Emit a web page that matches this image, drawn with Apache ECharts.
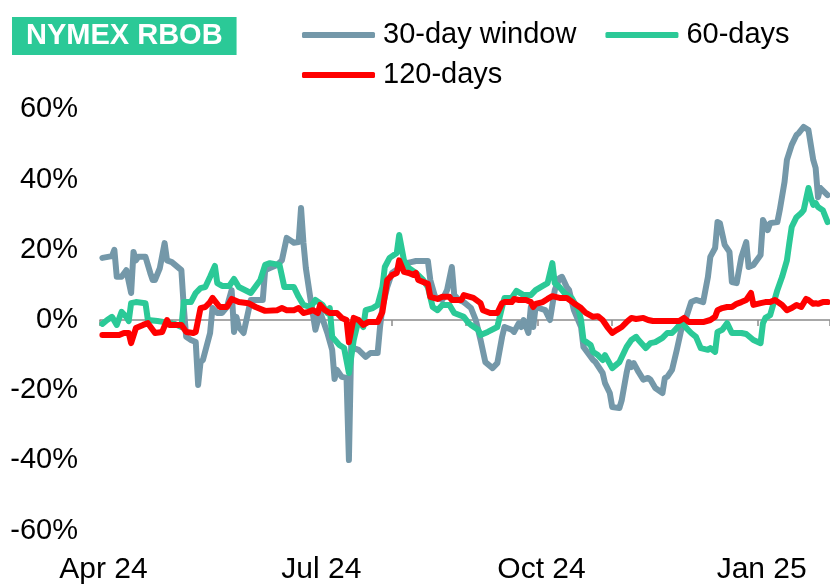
<!DOCTYPE html>
<html>
<head>
<meta charset="utf-8">
<script src="https://cdn.jsdelivr.net/npm/echarts@6/dist/echarts.min.js"></script>
<style>
html,body{margin:0;padding:0;background:#fff;}
#chart{width:830px;height:586px;}
</style>
</head>
<body>
<div id="chart"></div>
<script>
const seriesNames = ['30-day window', '60-days', '120-days'];
const xTickMonths = [3, 6, 9, 0];
const xTickLabels = ['Apr', 'Jul', 'Oct', 'Jan'];
const yTicks = [-60, -40, -20, 0, 20, 40, 60];

const gray30 = [
['2024-04-02',17.7],['2024-04-06',18.2],['2024-04-07',20],['2024-04-08',12.3],['2024-04-10',12.3],['2024-04-12',14.2],['2024-04-14',7.7],['2024-04-15',19.4],['2024-04-16',17],['2024-04-17',18],['2024-04-20',18],['2024-04-22',13.4],['2024-04-23',11.4],['2024-04-24',11.4],['2024-04-26',14.8],['2024-04-28',21.9],['2024-04-29',17],['2024-05-01',16.5],['2024-05-05',14.2],['2024-05-06',3.7],['2024-05-07',-4.8],['2024-05-09',-5.7],['2024-05-11',-6.3],['2024-05-12',-18.5],['2024-05-13',-12],['2024-05-14',-11.4],['2024-05-17',-3.7],['2024-05-18',3.4],['2024-05-20',2],['2024-05-22',2],['2024-05-24',3.7],['2024-05-26',8.5],['2024-05-27',-3.4],['2024-05-28',0.9],['2024-05-29',-2],['2024-05-31',-3.7],['2024-06-03',5.7],['2024-06-08',5.7],['2024-06-09',14.2],['2024-06-11',14.8],['2024-06-14',15.7],['2024-06-16',17],['2024-06-18',23.4],['2024-06-21',22],['2024-06-23',22.2],['2024-06-24',31.9],['2024-06-25',22],['2024-06-26',14.8],['2024-06-28',5.7],['2024-06-30',-2.8],['2024-07-02',2.3],['2024-07-05',-3.7],['2024-07-07',-8.5],['2024-07-08',-16.8],['2024-07-09',-14.2],['2024-07-11',-16.2],['2024-07-13',-16.5],['2024-07-14',-39.9],['2024-07-15',-5.7],['2024-07-16',-8],['2024-07-18',-8.5],['2024-07-21',-10.5],['2024-07-23',-9.4],['2024-07-26',-9.4],['2024-07-27',-2],['2024-07-28',3.7],['2024-07-30',9.4],['2024-08-01',13.4],['2024-08-04',14.8],['2024-08-07',16.2],['2024-08-09',16.5],['2024-08-11',16.8],['2024-08-16',16.8],['2024-08-17',11.4],['2024-08-19',6.6],['2024-08-22',5.7],['2024-08-24',8.5],['2024-08-26',15.1],['2024-08-27',7.1],['2024-08-29',5.7],['2024-08-31',5.1],['2024-09-03',3.4],['2024-09-05',0],['2024-09-07',-5.7],['2024-09-09',-12],['2024-09-12',-13.7],['2024-09-14',-12.3],['2024-09-16',-4.8],['2024-09-17',-2],['2024-09-20',-2.8],['2024-09-21',-3.4],['2024-09-23',-0.9],['2024-09-24',-2],['2024-09-25',0],['2024-09-27',-3.7],['2024-09-28',3.7],['2024-09-29',-2],['2024-09-30',3.7],['2024-10-04',2.8],['2024-10-06',0],['2024-10-08',8.5],['2024-10-10',12],['2024-10-11',12.3],['2024-10-13',9.4],['2024-10-14',8.5],['2024-10-16',2.8],['2024-10-19',-2],['2024-10-20',-7.7],['2024-10-24',-11.4],['2024-10-25',-12],['2024-10-28',-15.1],['2024-10-29',-18],['2024-10-31',-20.8],['2024-11-01',-24.8],['2024-11-04',-25.1],['2024-11-05',-22.8],['2024-11-07',-15.1],['2024-11-08',-12],['2024-11-09',-13.4],['2024-11-10',-12.3],['2024-11-12',-14.8],['2024-11-14',-17],['2024-11-16',-16.5],['2024-11-17',-17],['2024-11-19',-19.4],['2024-11-22',-20.8],['2024-11-23',-16.5],['2024-11-24',-16.2],['2024-11-26',-14.2],['2024-11-28',-8.5],['2024-11-30',-2.3],['2024-12-02',0.9],['2024-12-04',5.1],['2024-12-06',5.7],['2024-12-09',5.1],['2024-12-11',12.3],['2024-12-12',18],['2024-12-14',20.5],['2024-12-15',27.9],['2024-12-16',27.6],['2024-12-18',21.4],['2024-12-20',19.4],['2024-12-21',10.8],['2024-12-23',10.5],['2024-12-25',18],['2024-12-27',22.2],['2024-12-28',15.1],['2024-12-30',15.7],['2025-01-02',18.5],['2025-01-03',28.5],['2025-01-05',25.6],['2025-01-06',27.6],['2025-01-09',27.9],['2025-01-10',31.3],['2025-01-12',39.3],['2025-01-13',45.6],['2025-01-15',49.9],['2025-01-17',52.7],['2025-01-18',53.3],['2025-01-20',55],['2025-01-22',54.1],['2025-01-24',45.6],['2025-01-25',43.3],['2025-01-26',35],['2025-01-27',37.6],['2025-01-30',35.6]
];

const green60 = [
['2024-04-02',-1.1],['2024-04-04',0],['2024-04-06',0.9],['2024-04-08',-1.4],['2024-04-10',2.3],['2024-04-12',0.9],['2024-04-13',-0.3],['2024-04-14',4.8],['2024-04-16',5.1],['2024-04-20',4.8],['2024-04-21',0],['2024-04-25',-0.3],['2024-04-28',-0.6],['2024-05-02',-1.1],['2024-05-05',-2],['2024-05-06',5.1],['2024-05-09',5.1],['2024-05-11',7.7],['2024-05-13',9.1],['2024-05-15',9.4],['2024-05-17',12.3],['2024-05-19',15.4],['2024-05-20',10.5],['2024-05-22',9.7],['2024-05-25',9.7],['2024-05-27',11.7],['2024-05-29',9.4],['2024-06-03',7.7],['2024-06-07',11.4],['2024-06-09',15.7],['2024-06-11',16.2],['2024-06-15',15.7],['2024-06-17',9.4],['2024-06-21',9.4],['2024-06-23',6.6],['2024-06-25',4.3],['2024-06-28',3.7],['2024-06-30',5.7],['2024-07-03',4.3],['2024-07-05',2],['2024-07-06',3.4],['2024-07-07',-4.8],['2024-07-10',-7.1],['2024-07-12',-8],['2024-07-14',-15.1],['2024-07-16',-5.7],['2024-07-18',0],['2024-07-20',-2],['2024-07-21',2.8],['2024-07-24',3.4],['2024-07-26',4.3],['2024-07-28',9.4],['2024-07-29',15.1],['2024-07-31',17.7],['2024-08-03',19.1],['2024-08-04',24.2],['2024-08-06',17],['2024-08-08',14.8],['2024-08-11',13.4],['2024-08-14',11.4],['2024-08-16',9.4],['2024-08-18',3.7],['2024-08-20',2.8],['2024-08-22',4.3],['2024-08-25',4.3],['2024-08-27',2],['2024-08-31',0.9],['2024-09-02',-0.9],['2024-09-03',-1.4],['2024-09-06',-2.8],['2024-09-07',-4.3],['2024-09-10',-3.4],['2024-09-14',-2],['2024-09-16',3.7],['2024-09-17',6.3],['2024-09-20',6.3],['2024-09-22',8.3],['2024-09-25',7.1],['2024-09-28',7.1],['2024-09-30',8.5],['2024-10-03',9.7],['2024-10-05',10.5],['2024-10-07',16.2],['2024-10-08',10.5],['2024-10-10',9.4],['2024-10-12',7.7],['2024-10-15',6.3],['2024-10-18',2.8],['2024-10-19',0],['2024-10-20',-5.7],['2024-10-23',-7.1],['2024-10-24',-9.1],['2024-10-26',-10],['2024-10-28',-11.4],['2024-10-29',-10],['2024-11-01',-13.7],['2024-11-04',-12],['2024-11-07',-7.7],['2024-11-09',-5.7],['2024-11-11',-4.8],['2024-11-12',-5.7],['2024-11-15',-8],['2024-11-17',-6.6],['2024-11-19',-6.3],['2024-11-22',-5.1],['2024-11-24',-3.7],['2024-11-26',-3.7],['2024-11-28',-2.3],['2024-11-30',-0.6],['2024-12-02',-2.3],['2024-12-04',-3.7],['2024-12-06',-4.8],['2024-12-08',-8],['2024-12-11',-8.5],['2024-12-12',-8],['2024-12-14',-9.1],['2024-12-15',-3.4],['2024-12-17',-2.8],['2024-12-19',-0.9],['2024-12-21',-3.7],['2024-12-25',-3.7],['2024-12-27',-4],['2024-12-30',-5.7],['2025-01-02',-6.6],['2025-01-03',-0.9],['2025-01-04',0.6],['2025-01-06',1.4],['2025-01-09',8.5],['2025-01-11',12.3],['2025-01-13',17],['2025-01-14',21.9],['2025-01-15',26.5],['2025-01-17',29.3],['2025-01-19',30.5],['2025-01-20',31.3],['2025-01-22',37.6],['2025-01-23',34.8],['2025-01-24',32.8],['2025-01-25',33.3],['2025-01-26',32.2],['2025-01-28',31.3],['2025-01-30',27.9]
];

const red120 = [
['2024-04-02',-4.3],['2024-04-09',-4.3],['2024-04-11',-3.7],['2024-04-13',-3.7],['2024-04-14',-6.6],['2024-04-16',-2.3],['2024-04-19',-1.4],['2024-04-21',-0.9],['2024-04-24',-3.7],['2024-04-27',-3.4],['2024-04-29',0],['2024-04-30',-1.4],['2024-05-05',-1.4],['2024-05-07',-3.4],['2024-05-10',-3.7],['2024-05-11',-3.4],['2024-05-13',3.4],['2024-05-15',3.7],['2024-05-17',5.1],['2024-05-18',6.3],['2024-05-21',3.7],['2024-05-24',3.7],['2024-05-26',6],['2024-05-29',5.1],['2024-06-02',4.8],['2024-06-05',3.7],['2024-06-09',2.6],['2024-06-14',2.8],['2024-06-16',3.4],['2024-06-18',2.8],['2024-06-21',2.8],['2024-06-23',3.4],['2024-06-25',2],['2024-06-27',2.3],['2024-06-29',2.8],['2024-07-01',2],['2024-07-02',4.3],['2024-07-04',2.8],['2024-07-06',2],['2024-07-09',2],['2024-07-11',0.6],['2024-07-13',0],['2024-07-14',-6.3],['2024-07-16',0.6],['2024-07-18',0],['2024-07-20',-1.4],['2024-07-22',-0.6],['2024-07-26',-0.6],['2024-07-28',2.3],['2024-07-30',11.4],['2024-08-01',12.8],['2024-08-03',13.4],['2024-08-04',17],['2024-08-06',13.7],['2024-08-08',13.4],['2024-08-10',12.8],['2024-08-11',13.4],['2024-08-12',11.4],['2024-08-16',10.3],['2024-08-17',6.6],['2024-08-20',6],['2024-08-22',6.6],['2024-08-25',6.6],['2024-08-26',5.7],['2024-08-30',5.7],['2024-08-31',7.1],['2024-09-04',6.3],['2024-09-07',4.8],['2024-09-08',2.8],['2024-09-11',2],['2024-09-14',2],['2024-09-16',4.8],['2024-09-17',5.1],['2024-09-20',5.1],['2024-09-21',6],['2024-09-23',5.7],['2024-09-26',5.7],['2024-09-28',5.1],['2024-09-29',3.7],['2024-09-30',4.6],['2024-10-03',5.1],['2024-10-05',6],['2024-10-07',6.8],['2024-10-10',6.3],['2024-10-13',6.3],['2024-10-16',4.8],['2024-10-19',3.4],['2024-10-21',2],['2024-10-24',0.9],['2024-10-26',1.1],['2024-10-28',0],['2024-10-30',-2],['2024-11-01',-3.7],['2024-11-03',-2.8],['2024-11-05',-2],['2024-11-07',-0.6],['2024-11-09',0.6],['2024-11-11',0.3],['2024-11-14',0.6],['2024-11-16',0],['2024-11-18',-0.3],['2024-11-29',-0.3],['2024-12-01',0.6],['2024-12-03',-0.6],['2024-12-09',-0.6],['2024-12-12',0],['2024-12-14',0.9],['2024-12-15',2.8],['2024-12-17',3.4],['2024-12-19',3.7],['2024-12-21',3.7],['2024-12-23',4.6],['2024-12-25',5.1],['2024-12-27',5.7],['2024-12-29',7.7],['2024-12-30',4.3],['2025-01-02',4.8],['2025-01-04',5.1],['2025-01-06',5.1],['2025-01-08',5.7],['2025-01-11',4.3],['2025-01-13',2.8],['2025-01-15',3.4],['2025-01-17',4.3],['2025-01-19',3.7],['2025-01-21',6],['2025-01-22',5.7],['2025-01-24',4.6],['2025-01-25',4.8],['2025-01-26',4.6],['2025-01-28',5.1],['2025-01-30',5.1]
];

const FONT = "'Liberation Sans',Arial,sans-serif";
const DAY = 86400000;
const COLORS = ['#7498A9', '#2BC997', '#FF0000'];

const chart = echarts.init(document.getElementById('chart'), null, {renderer: 'canvas'});

function monthLabel(v) {
  const d = new Date(v);
  if (d.getDate() !== 1) return '';
  const i = xTickMonths.indexOf(d.getMonth());
  if (i < 0) return '';
  return xTickLabels[i] + ' ' + String(d.getFullYear() % 100).padStart(2, '0');
}

const baseX = {
  type: 'time',
  min: '2024-04-01',
  max: '2025-01-31',
  splitNumber: 10,
  minInterval: 28 * DAY,
  maxInterval: 31 * DAY,
  splitLine: {show: false}
};

const legendText = {fontSize: 29, lineHeight: 34, color: '#000', fontFamily: FONT, padding: [0, 0, 0, 3]};

const option = {
  animation: false,
  backgroundColor: '#fff',
  title: {
    text: 'NYMEX RBOB',
    left: 12, top: 17,
    padding: [2, 14, 2, 14],
    backgroundColor: '#2BC997',
    textStyle: {color: '#fff', fontWeight: 'bold', fontSize: 29, lineHeight: 34, fontFamily: FONT}
  },
  legend: [
    {
      data: [seriesNames[0], seriesNames[1]],
      left: 302, top: 18, width: 520, padding: 0, itemGap: 29,
      itemWidth: 73, itemHeight: 6, icon: 'roundRect',
      textStyle: legendText
    },
    {
      data: [seriesNames[2]],
      left: 302, top: 58, width: 520, padding: 0,
      itemWidth: 73, itemHeight: 6, icon: 'roundRect',
      textStyle: legendText
    }
  ],
  grid: {left: 100, right: 0, top: 109.4, bottom: 55.4, containLabel: false},
  xAxis: [
    Object.assign({}, baseX, {
      axisLine: {show: true, onZero: true, lineStyle: {color: '#8C8C8C', width: 1.5}},
      axisTick: {show: true, length: 6, lineStyle: {color: '#8C8C8C', width: 1.5}},
      axisLabel: {show: false}
    }),
    Object.assign({}, baseX, {
      position: 'bottom',
      axisLine: {show: false, onZero: false},
      axisTick: {show: false},
      axisLabel: {show: true, formatter: monthLabel, fontSize: 30, color: '#000', fontFamily: FONT, margin: 24, padding: [0, 0, 0, 7], showMinLabel: true, hideOverlap: false}
    })
  ],
  yAxis: {
    type: 'value',
    min: yTicks[0], max: yTicks[yTicks.length - 1], interval: 20,
    axisLine: {show: false},
    axisTick: {show: false},
    splitLine: {show: false},
    axisLabel: {formatter: '{value}%', fontSize: 29, color: '#000', fontFamily: FONT, margin: 22}
  },
  series: [gray30, green60, red120].map((data, i) => ({
    name: seriesNames[i],
    type: 'line',
    xAxisIndex: 0,
    data: data,
    showSymbol: false,
    symbol: 'none',
    color: COLORS[i],
    lineStyle: {color: COLORS[i], width: 6, join: 'round', cap: 'round'},
    z: 2 + i
  }))
};

chart.setOption(option);
</script>
</body>
</html>
